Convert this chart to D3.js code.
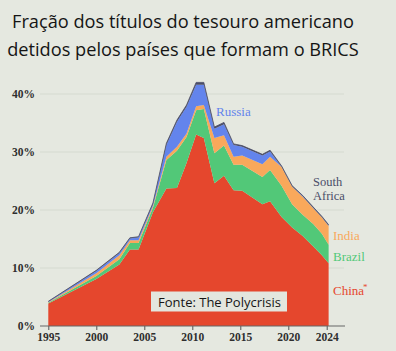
<!DOCTYPE html>
<html>
<head>
<meta charset="utf-8">
<script src="https://cdn.jsdelivr.net/npm/d3@7/dist/d3.min.js"></script>
<style>
  html, body { margin: 0; padding: 0; background: #e5e8e0; }
  svg { display: block; }
</style>
</head>
<body>
<svg id="chart" width="396" height="351"></svg>
<script>
// ---- data (share of US Treasury securities held, %) ----
const years = [1995, 2000, 2002.4, 2003.5, 2004.4, 2005.9, 2007.3, 2008.4, 2009.4, 2010.4, 2011.2,
               2012.3, 2013.3, 2014.3, 2015.2, 2017.3, 2018.1, 2019.3, 2020.4, 2021.5, 2022.6, 2023.5, 2024.2];
const china       = [3.9, 8.1, 10.6, 13.2, 13.2, 19.6, 23.7, 23.8, 28.1, 33.0, 32.4,
                     24.6, 25.9, 23.4, 23.3, 21.0, 21.5, 18.8, 17.0, 15.5, 13.7, 12.2, 10.8];
const brazil      = [0.1, 0.5, 0.9, 1.1, 1.1, 0.8, 4.9, 6.4, 4.5, 4.2, 5.0,
                     5.2, 5.2, 4.4, 4.5, 4.7, 5.4, 5.4, 4.0, 3.7, 3.9, 3.7, 3.2];
const india       = [0.1, 0.5, 0.7, 0.5, 0.5, 0.3, 0.6, 0.7, 0.6, 0.7, 0.7,
                     2.6, 1.8, 1.4, 1.6, 2.2, 2.3, 3.2, 3.0, 3.1, 2.7, 2.8, 3.25];
const russia      = [0.1, 0.4, 0.4, 0.3, 0.5, 0.3, 2.0, 4.3, 4.6, 3.7, 3.5,
                     1.6, 1.9, 2.0, 1.5, 1.5, 0.9, 0.05, 0.05, 0.05, 0.05, 0.05, 0.05];
const southAfrica = [0.05, 0.1, 0.1, 0.1, 0.1, 0.2, 0.3, 0.3, 0.3, 0.4, 0.4,
                     0.3, 0.3, 0.2, 0.2, 0.2, 0.2, 0.15, 0.15, 0.15, 0.15, 0.15, 0.15];

const yTicks = [0, 10, 20, 30, 40];
const xTicks = [1995, 2000, 2005, 2010, 2015, 2020, 2024];
const titleLines = ["Fração dos títulos do tesouro americano", "detidos pelos países que formam o BRICS"];
const source = "Fonte: The Polycrisis";

const keys = ["China", "Brazil", "India", "Russia", "South Africa"];
const colors = {
  "China": "#e5472d",
  "Brazil": "#52c878",
  "India": "#f9a85b",
  "Russia": "#6384ec",
  "South Africa": "#4a4d68"
};

const rows = years.map((y, i) => ({
  year: y,
  "China": china[i],
  "Brazil": brazil[i],
  "India": india[i],
  "Russia": russia[i],
  "South Africa": southAfrica[i]
}));

// ---- layout ----
const svg = d3.select("#chart");
const gridLeft = 40, gridRight = 344;

const x = d3.scaleLinear().domain([1995, 2024]).range([48.3, 326.7]);
const y = d3.scaleLinear().domain([0, 40]).range([326, 94]);

// title
svg.append("g").selectAll("text").data(titleLines).join("text")
  .attr("x", 183).attr("y", (d, i) => 28 + i * 28)
  .attr("text-anchor", "middle")
  .attr("font-family", "'Open Sans', sans-serif")
  .attr("font-size", 18.2)
  .attr("fill", "#151515")
  .text(d => d);

// gridlines
svg.append("g").selectAll("line").data(yTicks.filter(d => d > 0)).join("line")
  .attr("x1", gridLeft).attr("x2", gridRight)
  .attr("y1", d => y(d)).attr("y2", d => y(d))
  .attr("stroke", "#d6d9d0").attr("stroke-width", 1.2);

// stacked areas
const stack = d3.stack().keys(keys);
const series = stack(rows);
const area = d3.area()
  .x(d => x(d.data.year))
  .y0(d => y(d[0]))
  .y1(d => y(d[1]));

svg.append("g").selectAll("path").data(series).join("path")
  .attr("d", area)
  .attr("fill", d => colors[d.key]);

// top outline
const topLine = d3.line().x(d => x(d.data.year)).y(d => y(d[1]));
svg.append("path").datum(series[series.length - 1])
  .attr("d", topLine)
  .attr("fill", "none")
  .attr("stroke", colors["South Africa"])
  .attr("stroke-width", 0.8);

// y axis labels
const yAxis = d3.axisLeft(y).tickValues(yTicks).tickFormat(d => d + "%").tickSize(0).tickPadding(0);
const yg = svg.append("g").attr("transform", "translate(35,0)").call(yAxis);
yg.select(".domain").remove();
yg.selectAll("text")
  .attr("font-family", "'Liberation Serif', serif")
  .attr("font-size", 11.5)
  .attr("font-weight", "bold")
  .attr("fill", "#2e2e2e");

// x axis
const xAxis = d3.axisBottom(x).tickValues(xTicks).tickFormat(d3.format("d")).tickSize(4).tickPadding(3);
const xg = svg.append("g").attr("transform", "translate(0,326)").call(xAxis);
xg.select(".domain").remove();
xg.selectAll(".tick line").attr("stroke", "#555").attr("stroke-width", 1);
xg.selectAll("text")
  .attr("font-family", "'Liberation Serif', serif")
  .attr("font-size", 11.5)
  .attr("font-weight", "bold")
  .attr("fill", "#2e2e2e");
svg.append("line")
  .attr("x1", gridLeft).attr("x2", 345)
  .attr("y1", 326).attr("y2", 326)
  .attr("stroke", "#666").attr("stroke-width", 1.2);

// series labels
const labelFont = "'Liberation Serif', serif";
const labels = [
  { text: "Russia", x: 216, y: 116, c: colors["Russia"], s: 13 },
  { text: "South", x: 313, y: 186, c: colors["South Africa"], s: 12.5 },
  { text: "Africa", x: 313, y: 200, c: colors["South Africa"], s: 12.5 },
  { text: "India", x: 333, y: 240, c: colors["India"], s: 13 },
  { text: "Brazil", x: 333, y: 261, c: colors["Brazil"], s: 13 },
  { text: "China", x: 333, y: 295, c: colors["China"], s: 13 }
];
svg.append("g").selectAll("text").data(labels).join("text")
  .attr("x", d => d.x).attr("y", d => d.y)
  .attr("font-family", labelFont)
  .attr("font-size", d => d.s)
  .attr("fill", d => d.c)
  .text(d => d.text);
svg.append("text")
  .attr("x", 363).attr("y", 290)
  .attr("font-family", labelFont)
  .attr("font-size", 9)
  .attr("fill", colors["China"])
  .text("*");

// source box
const src = svg.append("g");
src.append("rect")
  .attr("x", 151).attr("y", 291.5).attr("width", 136).attr("height", 20)
  .attr("fill", "#e3e6de");
src.append("text")
  .attr("x", 158).attr("y", 306.5)
  .attr("font-family", "'Open Sans', sans-serif")
  .attr("font-size", 13)
  .attr("fill", "#151515")
  .text(source);
</script>
</body>
</html>
